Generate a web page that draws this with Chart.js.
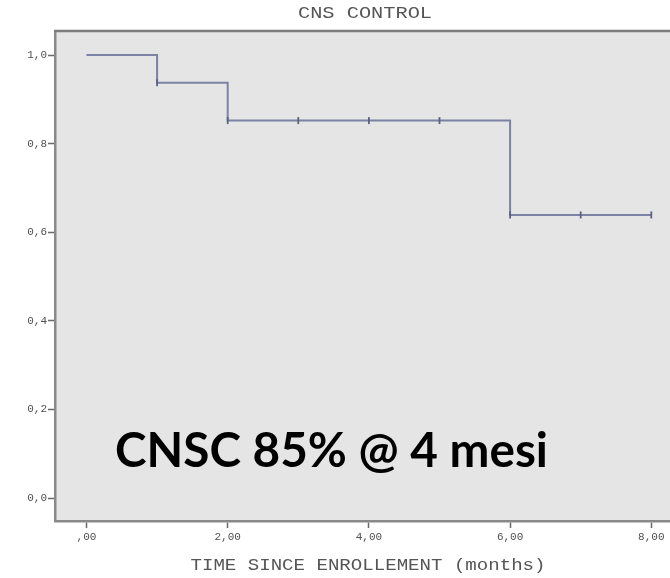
<!DOCTYPE html>
<html>
<head>
<meta charset="utf-8">
<script src="https://cdn.jsdelivr.net/npm/chart.js@4"></script>
<style>
  html, body { margin: 0; padding: 0; background: #ffffff; }
  #wrap { width: 670px; height: 578px; }
</style>
</head>
<body>
<div id="wrap"><canvas id="km" width="670" height="578"></canvas></div>
<script>
// Kaplan-Meier estimate: event times and survival after each step
const eventTimes = [0, 1, 2, 6, 8];
const survival = [1.0, 0.9375, 0.852, 0.639, 0.639];

// Censored observations (time, survival at that time)
const censorTimes = [1, 2, 3, 4, 5, 6, 7, 8];
const censorSurvival = [0.9375, 0.852, 0.852, 0.852, 0.852, 0.639, 0.639, 0.639];

// Axis ticks
const xTickValues = [0, 2, 4, 6, 8];
const xTickLabels = [',00', '2,00', '4,00', '6,00', '8,00'];
const yTickValues = [0, 0.2, 0.4, 0.6, 0.8, 1.0];
const yTickLabels = ['0,0', '0,2', '0,4', '0,6', '0,8', '1,0'];

// Texts
const chartTitle = 'CNS CONTROL';
const xAxisTitle = 'TIME SINCE ENROLLEMENT (months)';
const highlightMonth = 4;

function survivalAt(t) {
  let s = survival[0];
  for (let i = 0; i < eventTimes.length; i++) {
    if (eventTimes[i] <= t) s = survival[i];
  }
  return s;
}

const stepPoints = eventTimes.map((t, i) => ({ x: t, y: survival[i] }));
const censorPoints = censorTimes.map((t, i) => ({ x: t, y: censorSurvival[i] }));

const MONO = '"Liberation Mono", "DejaVu Sans Mono", monospace';

// Draws a monospace string stretched to a given width, centred at cx
function drawStretched(ctx, text, cx, cy, size, width, color) {
  ctx.save();
  ctx.font = size + 'px ' + MONO;
  const w = ctx.measureText(text).width;
  const sx = width / w;
  ctx.translate(cx, cy);
  ctx.scale(sx, 1);
  ctx.fillStyle = color;
  ctx.textAlign = 'center';
  ctx.textBaseline = 'middle';
  ctx.fillText(text, 0, 0);
  ctx.restore();
}

const framePlugin = {
  id: 'frame',
  beforeDraw(chart) {
    const { ctx, chartArea: a } = chart;
    ctx.save();
    ctx.fillStyle = '#e5e5e5';
    ctx.fillRect(a.left, a.top, chart.width - a.left, a.bottom - a.top);
    ctx.restore();
  },
  afterDraw(chart) {
    const { ctx, chartArea: a } = chart;
    ctx.save();
    // top frame line
    ctx.strokeStyle = '#7d7d7d';
    ctx.lineWidth = 2.5;
    ctx.beginPath();
    ctx.moveTo(a.left - 1, a.top);
    ctx.lineTo(chart.width, a.top);
    ctx.stroke();
    ctx.restore();

    // chart title and axis title
    drawStretched(ctx, chartTitle, 365, 14, 16, 134, '#555555');
    drawStretched(ctx, xAxisTitle, 368, 566, 16, 355, '#555555');

    // summary annotation, value taken from the curve
    const pct = Math.round(survivalAt(highlightMonth) * 100);
    const note = 'CNSC ' + pct + '% @ ' + highlightMonth + ' mesi';
    ctx.save();
    ctx.font = 'bold 50px Lato, "Open Sans", sans-serif';
    const w = ctx.measureText(note).width;
    const size = 50 * 433 / w;
    ctx.font = 'bold ' + size.toFixed(2) + 'px Lato, "Open Sans", sans-serif';
    ctx.fillStyle = '#000000';
    ctx.textAlign = 'left';
    ctx.textBaseline = 'alphabetic';
    ctx.fillText(note, 115, 467);
    ctx.restore();
  }
};

new Chart(document.getElementById('km'), {
  type: 'line',
  data: {
    datasets: [
      {
        label: 'Survival',
        data: stepPoints,
        stepped: true,
        borderColor: '#7b82a4',
        borderWidth: 2,
        pointRadius: 0,
        fill: false,
        order: 2
      },
      {
        label: 'Censored',
        type: 'scatter',
        data: censorPoints,
        pointStyle: 'line',
        rotation: 90,
        pointRadius: 3.5,
        pointBorderWidth: 1.8,
        pointBorderColor: '#5c6180',
        pointBackgroundColor: '#5c6180',
        showLine: false,
        order: 1
      }
    ]
  },
  options: {
    responsive: false,
    animation: false,
    devicePixelRatio: 1,
    layout: { autoPadding: false, padding: { top: 31, right: 0, left: 0, bottom: 0 } },
    plugins: {
      legend: { display: false },
      title: { display: false },
      tooltip: { enabled: false }
    },
    scales: {
      x: {
        type: 'linear',
        min: -0.446,
        max: 8.265,
        afterBuildTicks(scale) {
          scale.ticks = xTickValues.map(v => ({ value: v }));
        },
        afterFit(scale) {
          scale.height = 57;
          scale.paddingLeft = 0;
          scale.paddingRight = 0;
        },
        ticks: {
          autoSkip: false,
          maxRotation: 0,
          padding: 2,
          color: '#4f4f4f',
          font: { family: MONO, size: 11 },
          callback(value) {
            const i = xTickValues.indexOf(value);
            return i >= 0 ? xTickLabels[i] : '';
          }
        },
        grid: {
          display: true,
          drawOnChartArea: false,
          drawTicks: true,
          tickLength: 7,
          tickColor: '#6a6a6a',
          tickWidth: 1.5
        },
        border: { display: true, color: '#8a8a8a', width: 2.5 }
      },
      y: {
        type: 'linear',
        min: -0.0519,
        max: 1.0542,
        afterBuildTicks(scale) {
          scale.ticks = yTickValues.map(v => ({ value: v }));
        },
        afterFit(scale) {
          scale.width = 55;
          scale.paddingTop = 0;
          scale.paddingBottom = 0;
        },
        ticks: {
          autoSkip: false,
          padding: 1,
          color: '#4f4f4f',
          font: { family: MONO, size: 11 },
          callback(value) {
            const i = yTickValues.findIndex(v => Math.abs(v - value) < 1e-9);
            return i >= 0 ? yTickLabels[i] : '';
          }
        },
        grid: {
          display: true,
          drawOnChartArea: false,
          drawTicks: true,
          tickLength: 7,
          tickColor: '#6a6a6a',
          tickWidth: 1.5
        },
        border: { display: true, color: '#8a8a8a', width: 2.5 }
      }
    }
  },
  plugins: [framePlugin]
});
</script>
</body>
</html>
